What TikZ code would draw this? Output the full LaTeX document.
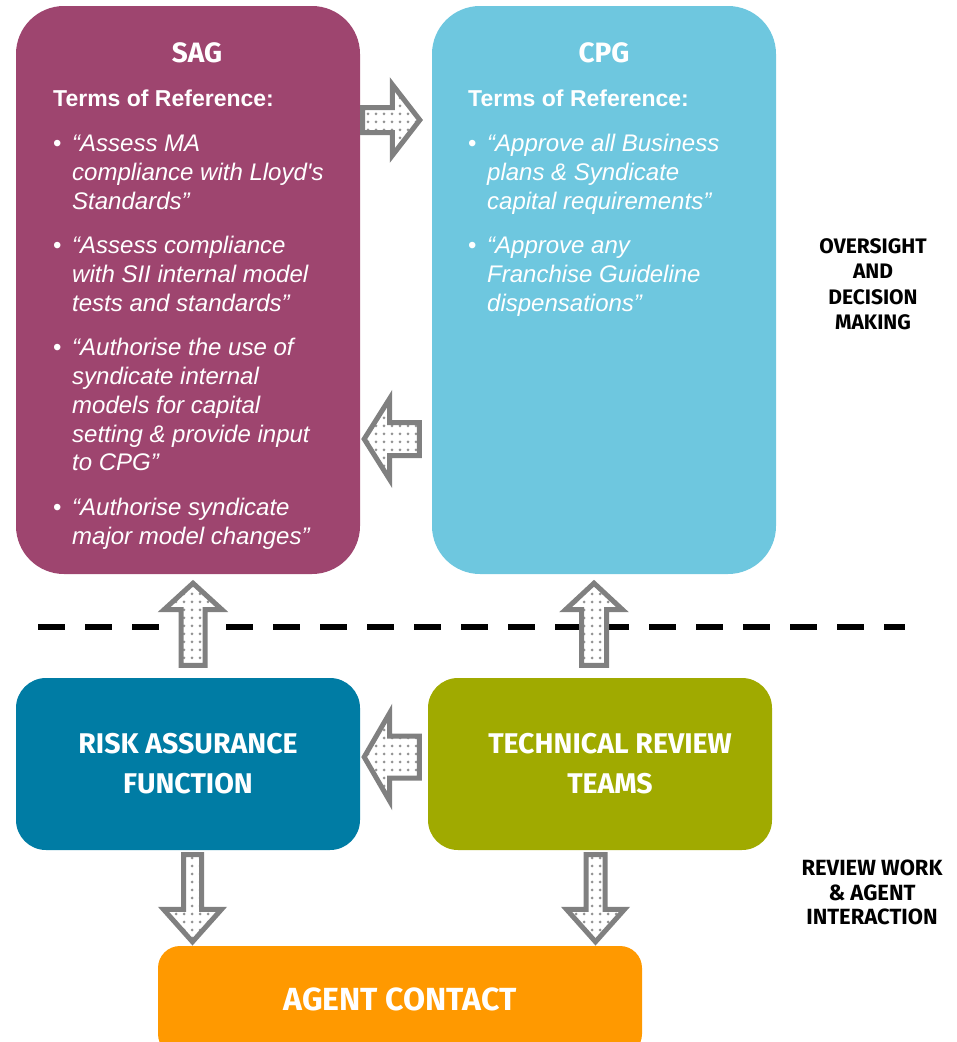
\documentclass[tikz,border=0pt]{standalone}
\usepackage{fontspec}
\setmainfont{Liberation Sans}
\newfontfamily\labelfont{Fira Sans}
\usepackage{array}
\usepackage{tikz}
\usetikzlibrary{positioning, calc, patterns.meta}

\definecolor{sagpurple}{RGB}{158,69,111}
\definecolor{cpgblue}{RGB}{110,199,223}
\definecolor{rafblue}{RGB}{0,124,164}
\definecolor{trtgreen}{RGB}{160,170,0}
\definecolor{agentorange}{RGB}{255,153,0}
\definecolor{arrowgray}{RGB}{128,128,128}

% block arrow: from, to, shaft half width, head half width, head length
\newcommand{\blockarrow}[5]{%
  \path #1 coordinate (ba-s) #2 coordinate (ba-e);
  \coordinate (ba-h) at ($(ba-e)!#5pt!(ba-s)$);
  \draw[fatarrow] ($(ba-s)!#3pt!90:(ba-e)$) -- ($(ba-h)!#3pt!90:(ba-e)$)
    -- ($(ba-h)!#4pt!90:(ba-e)$) -- (ba-e) -- ($(ba-h)!#4pt!-90:(ba-e)$)
    -- ($(ba-h)!#3pt!-90:(ba-e)$) -- ($(ba-s)!#3pt!-90:(ba-e)$) -- cycle;
}

\begin{document}
\begin{tikzpicture}[x=1pt, y=-1pt,
    box/.style={rounded corners=#1, inner sep=0pt, minimum width=344pt},
    title/.style={anchor=base, text=white, font={\labelfont\bfseries\fontsize{28}{32}\selectfont}},
    boxtext/.style={text=white, align=center, font={\labelfont\bfseries\fontsize{28.5}{39.5}\selectfont}},
    sidelabel/.style={align=center, font={\labelfont\bfseries\fontsize{21}{25.5}\selectfont}},
    tor/.style={anchor=base west, text=white, inner sep=0pt},
    fatarrow/.style={draw=arrowgray, line width=5pt, preaction={fill=white},
        pattern={Dots[distance=8pt, radius=1.5pt]}, pattern color=arrowgray!85}]
    \clip (0,0) rectangle (957,1042);

    % boxes
    \node[box=48pt, fill=sagpurple, minimum height=568pt] (sag) at (188,290) {};
    \node[box=48pt, fill=cpgblue, minimum height=568pt] (cpg) at (604,290) {};
    \node[box=30pt, fill=rafblue, minimum height=172pt] (raf) at (188,764) {};
    \node[box=30pt, fill=trtgreen, minimum height=172pt] (trt) at (600,764) {};
    \node[box=22pt, fill=agentorange, minimum width=484pt, minimum height=110pt] (agent) at (400,1001) {};

    \draw[line width=6.5pt, dash pattern=on 27pt off 20pt] (38,627) -- (905,627);

    % arrows
    \blockarrow{($(sag.east |- 0,120)+(2.5,0)$)}{($(cpg.west |- 0,120)+(-12,0)$)}{12.5}{35.5}{27.5}
    \blockarrow{($(cpg.west |- 0,439)+(-12.5,0)$)}{($(sag.east |- 0,439)+(4,0)$)}{16.5}{40.5}{25.5}
    \blockarrow{($(trt.west |- 0,757)+(-8.5,0)$)}{($(raf.east |- 0,757)+(4,0)$)}{21}{44}{25.5}
    \blockarrow{($(raf.north -| 193,0)+(0,-12.5)$)}{($(sag.south -| 193,0)+(0,9)$)}{12}{29}{26.5}
    \blockarrow{($(trt.north -| 594,0)+(0,-12.5)$)}{($(cpg.south -| 594,0)+(0,9)$)}{12.5}{28.5}{26.5}
    \blockarrow{($(raf.south -| 192.5,0)+(0,4.5)$)}{($(agent.north -| 192.5,0)+(0,-4)$)}{9}{29}{32.5}
    \blockarrow{($(trt.south -| 595.5,0)+(0,4.5)$)}{($(agent.north -| 595.5,0)+(0,-4)$)}{9.5}{29}{32.5}

    % texts
    \node[title] (sagtitle) at (197,62) {SAG};
    \node[title] (cpgtitle) at (604,62) {CPG};
    \node[tor] (sagtor) at (53,106) {\fontsize{24}{28.7}\selectfont
      \begin{tabular}[t]{@{}l@{\hspace{10.6pt}}>{\itshape}l@{}}
        \multicolumn{2}{@{}l@{}}{\fontsize{23}{28.7}\selectfont\bfseries Terms of Reference:}\\[17pt]
        \textbullet & “Assess MA\\
         & compliance with Lloyd\textquotesingle s\\
         & Standards”\\[16pt]
        \textbullet & “Assess compliance\\
         & with SII internal model\\
         & tests and standards”\\[16pt]
        \textbullet & “Authorise the use of\\
         & syndicate internal\\
         & models for capital\\
         & setting \& provide input\\
         & to CPG”\\[16pt]
        \textbullet & “Authorise syndicate\\
         & major model changes”
      \end{tabular}};
    \node[tor] (cpgtor) at (468,106) {\fontsize{24}{28.7}\selectfont
      \begin{tabular}[t]{@{}l@{\hspace{10.6pt}}>{\itshape}l@{}}
        \multicolumn{2}{@{}l@{}}{\fontsize{23}{28.7}\selectfont\bfseries Terms of Reference:}\\[17pt]
        \textbullet & “Approve all Business\\
         & plans \& Syndicate\\
         & capital requirements”\\[16pt]
        \textbullet & “Approve any\\
         & Franchise Guideline\\
         & dispensations”
      \end{tabular}};
    \node[boxtext] (raftext) at (188,763.5) {RISK ASSURANCE\\FUNCTION};
    \node[boxtext] (trttext) at (610,763.5) {TECHNICAL REVIEW\\TEAMS};
    \node[boxtext, font={\labelfont\bfseries\fontsize{32}{38}\selectfont}] (agenttext) at (400,999.5) {AGENT CONTACT};
    \node[sidelabel] (oversight) at (873,284) {OVERSIGHT\\AND\\DECISION\\MAKING};
    \node[sidelabel, font={\labelfont\bfseries\fontsize{22}{24.5}\selectfont}] (review) at (872,892.5) {REVIEW WORK\\\& AGENT\\INTERACTION};
\end{tikzpicture}
\end{document}
